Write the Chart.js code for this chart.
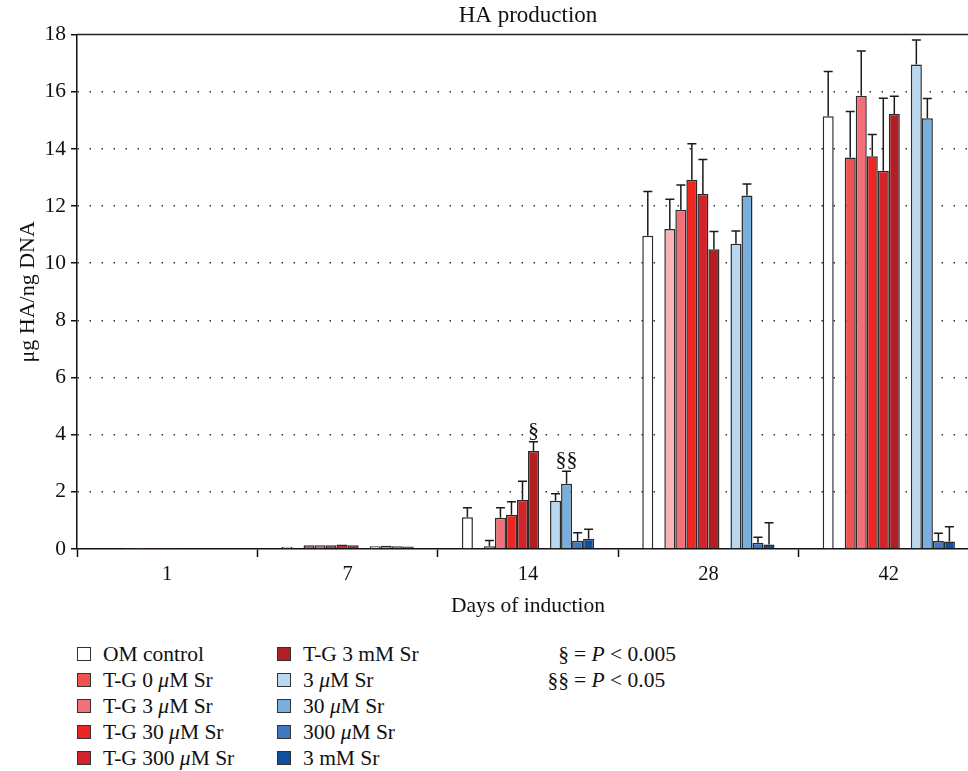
<!DOCTYPE html>
<html>
<head>
<meta charset="utf-8">
<script src="https://cdn.jsdelivr.net/npm/chart.js@4"></script>
<style>
  html, body { margin: 0; padding: 0; background: #fff; overflow: hidden; }
  #wrap { position: relative; width: 968px; height: 771px; overflow: hidden; }
  #haChart { position: absolute; left: 0; top: 0; }
  .leg { position: absolute; font-family: "Liberation Serif", serif; font-size: 21.5px; color: #111; white-space: nowrap; line-height: 24px; }
  .leg .box { position: absolute; left: 0; top: 5px; width: 12px; height: 12px; border: 1.5px solid #333; }
  .leg .txt { position: absolute; left: 26px; top: 0; }
  .note { position: absolute; font-family: "Liberation Serif", serif; font-size: 21.5px; color: #111; white-space: nowrap; line-height: 24px; }
</style>
</head>
<body>
<div id="wrap">
  <canvas id="haChart" width="985" height="625"></canvas>
  <div id="legend"></div>
</div>
<script>
/* HA production - days of induction */

var categories = ["1", "7", "14", "28", "42"];

var seriesNames = [
    "OM control",
    "T-G 0 <i>μ</i>M Sr",
    "T-G 3 <i>μ</i>M Sr",
    "T-G 30 <i>μ</i>M Sr",
    "T-G 300 <i>μ</i>M Sr",
    "T-G 3 mM Sr",
    "3 <i>μ</i>M Sr",
    "30 <i>μ</i>M Sr",
    "300 <i>μ</i>M Sr",
    "3 mM Sr"
];

var seriesColors = [
    "#FFFFFF", "#EF5350", "#F27078", "#EE2622", "#D2232A",
    "#B11F24", "#B9D8F0", "#79AFDF", "#3D7AC1", "#0E4F9E"
];

// values per series, one per day
var omControl = [0.02, 0.08, 1.11, 10.96, 15.14];
var tg0 = [0.01, 0.13, 0.10, 11.20, 13.70];
var tg3 = [0.01, 0.13, 1.09, 11.87, 15.86];
var tg30 = [0.01, 0.13, 1.20, 12.92, 13.74];
var tg300 = [0.01, 0.16, 1.72, 12.42, 13.24];
var tg3mM = [0.01, 0.13, 3.43, 10.49, 15.22];
var sr3 = [0.02, 0.10, 1.69, 10.68, 16.95];
var sr30 = [0.02, 0.11, 2.28, 12.37, 15.07];
var sr300 = [0.02, 0.10, 0.29, 0.22, 0.28];
var sr3mM = [0.02, 0.09, 0.36, 0.16, 0.26];

// upper error bars (SD)
var omControlErr = [0, 0, 0.33, 1.55, 1.57];
var tg0Err = [0, 0, 0.20, 1.04, 1.61];
var tg3Err = [0, 0, 0.35, 0.87, 1.57];
var tg30Err = [0, 0, 0.45, 1.26, 0.76];
var tg300Err = [0, 0, 0.65, 1.21, 2.53];
var tg3mMErr = [0, 0, 0.32, 0.62, 0.62];
var sr3Err = [0, 0, 0.24, 0.45, 0.86];
var sr30Err = [0, 0, 0.44, 0.40, 0.69];
var sr300Err = [0, 0, 0.28, 0.19, 0.27];
var sr3mMErr = [0, 0, 0.33, 0.76, 0.52];

var seriesValues = [omControl, tg0, tg3, tg30, tg300, tg3mM, sr3, sr30, sr300, sr3mM];
var seriesErrors = [omControlErr, tg0Err, tg3Err, tg30Err, tg300Err, tg3mMErr, sr3Err, sr30Err, sr300Err, sr3mMErr];

var yTicks = [0, 2, 4, 6, 8, 10, 12, 14, 16, 18];

// significance marks: series index, day index, label
var sigSeries = [5, 7];
var sigDay = [2, 2];
var sigText = ["§", "§§"];

// empty slots in each group come after these series
var gapAfter = [0, 5];

var datasets = [];
for (var i = 0; i < seriesValues.length; i++) {
    var bg = seriesColors[i];
    if (i === 1) {
        // T-G 0 bar at day 28 is printed lighter in the figure
        bg = seriesValues[i].map(function (v, j) { return j === 3 ? "#F7B5B7" : seriesColors[1]; });
    }
    datasets.push({
        label: seriesNames[i].replace(/<[^>]+>/g, ""),
        data: seriesValues[i],
        errors: seriesErrors[i],
        seriesIndex: i,
        backgroundColor: bg,
        borderColor: "#2b2b2b",
        borderWidth: 1.5,
        borderSkipped: "bottom"
    });
    if (gapAfter.indexOf(i) >= 0) {
        datasets.push({ label: "", data: categories.map(function () { return null; }), spacer: true });
    }
}

var errorBars = {
    id: "errorBars",
    afterDatasetsDraw: function (chart) {
        var ctx = chart.ctx;
        var y = chart.scales.y;
        ctx.save();
        ctx.strokeStyle = "#1a1a1a";
        ctx.lineWidth = 1.5;
        chart.data.datasets.forEach(function (ds, di) {
            if (ds.spacer) return;
            var meta = chart.getDatasetMeta(di);
            meta.data.forEach(function (bar, j) {
                var err = ds.errors[j];
                if (!err) return;
                var top = y.getPixelForValue(ds.data[j] + err);
                ctx.beginPath();
                ctx.moveTo(bar.x, bar.y);
                ctx.lineTo(bar.x, top);
                ctx.moveTo(bar.x - 4.5, top);
                ctx.lineTo(bar.x + 4.5, top);
                ctx.stroke();
            });
        });
        // significance marks
        ctx.fillStyle = "#111";
        ctx.font = "22px 'Liberation Serif', serif";
        ctx.textAlign = "center";
        ctx.textBaseline = "alphabetic";
        for (var k = 0; k < sigText.length; k++) {
            var di = chart.data.datasets.findIndex(function (d) { return d.seriesIndex === sigSeries[k]; });
            var ds = chart.data.datasets[di];
            var bar = chart.getDatasetMeta(di).data[sigDay[k]];
            var top = y.getPixelForValue(ds.data[sigDay[k]] + ds.errors[sigDay[k]]);
            ctx.fillText(sigText[k], bar.x, top - 5);
        }
        // top frame line
        var a = chart.chartArea;
        ctx.strokeStyle = "#222";
        ctx.lineWidth = 1.5;
        ctx.beginPath();
        ctx.moveTo(a.left, a.top);
        ctx.lineTo(a.right, a.top);
        ctx.stroke();
        ctx.restore();
    }
};

var serif = "'Liberation Serif', serif";

var chartOptions = {
    responsive: false,
    animation: false,
    barPercentage: 1.0,
    categoryPercentage: 0.733,
    layout: { padding: { left: 0, right: 6, top: 0, bottom: 6 } },
    plugins: {
        legend: { display: false },
        tooltip: { enabled: false },
        title: {
            display: true,
            fullSize: false,
            text: "HA production",
            color: "#111",
            font: { family: serif, size: 23, weight: "normal" },
            padding: { top: 2, bottom: 5 }
        }
    },
    scales: {
        x: {
            grid: {
                drawOnChartArea: false,
                offset: true,
                tickLength: 8,
                tickColor: "#111",
                tickWidth: 1.5
            },
            border: { color: "#111", width: 1.5 },
            ticks: { color: "#111", font: { family: serif, size: 20.5 }, padding: 5 },
            title: {
                display: true,
                text: "Days of induction",
                color: "#111",
                font: { family: serif, size: 21.5 },
                padding: { top: 3, bottom: 0 }
            },
            afterFit: function (s) { s.height = 70; }
        },
        y: {
            min: 0,
            max: 18,
            afterBuildTicks: function (s) { s.ticks = yTicks.map(function (v) { return { value: v }; }); },
            grid: {
                color: function (c) {
                    var v = c.tick ? c.tick.value : 0;
                    return (v === 0 || v === 18) ? "rgba(0,0,0,0)" : "#333";
                },
                lineWidth: 1.5,
                tickBorderDash: [],
                tickLength: 6,
                tickColor: "#111",
                tickWidth: 1.5
            },
            border: { color: "#111", width: 1.5, dash: [1.5, 10.5] },
            ticks: { color: "#111", font: { family: serif, size: 21.5 }, padding: 5 },
            title: {
                display: true,
                text: "μg HA/ng DNA",
                color: "#111",
                font: { family: serif, size: 22 },
                padding: { top: 15, bottom: 4 }
            },
            afterFit: function (s) { s.width = 77; }
        }
    }
};

window.onload = function () {
    var ctx = document.getElementById("haChart").getContext("2d");
    window.haChart = new Chart(ctx, {
        type: "bar",
        data: { labels: categories, datasets: datasets },
        options: chartOptions,
        plugins: [errorBars]
    });

    // legend in three columns below the chart
    var legend = document.getElementById("legend");
    var colX = [77, 277];
    var rowY = [642, 668, 694, 720, 746];
    for (var i = 0; i < seriesNames.length; i++) {
        var col = i < 5 ? 0 : 1;
        var row = i % 5;
        var item = document.createElement("div");
        item.className = "leg";
        item.style.left = colX[col] + "px";
        item.style.top = rowY[row] + "px";
        item.innerHTML = '<span class="box" style="background:' + seriesColors[i] + '"></span>' +
            '<span class="txt">' + seriesNames[i] + '</span>';
        legend.appendChild(item);
    }
    var notes = [["§", "= <i>P</i> &lt; 0.005"], ["§§", "= <i>P</i> &lt; 0.05"]];
    for (var k = 0; k < notes.length; k++) {
        var l = document.createElement("div");
        l.className = "note";
        l.style.top = rowY[k] + "px";
        l.style.right = (968 - 569) + "px";
        l.innerHTML = notes[k][0];
        legend.appendChild(l);
        var r = document.createElement("div");
        r.className = "note";
        r.style.top = rowY[k] + "px";
        r.style.left = "574px";
        r.innerHTML = notes[k][1];
        legend.appendChild(r);
    }
};
</script>
</body>
</html>
